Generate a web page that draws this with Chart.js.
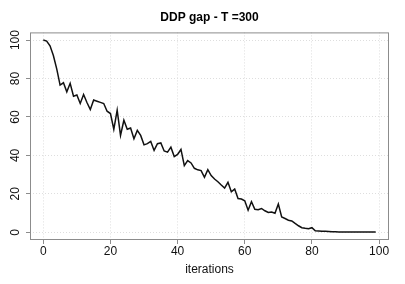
<!DOCTYPE html>
<html>
<head>
<meta charset="utf-8">
<script src="https://cdn.jsdelivr.net/npm/chart.js@4/dist/chart.umd.min.js"></script>
<style>
  html, body { margin: 0; padding: 0; background: #fff; }
  #wrap { width: 405px; height: 284px; }
</style>
</head>
<body>
<div id="wrap"><canvas id="gap"></canvas></div>
<script>
// DDP gap per iteration
const iterations = Array.from({ length: 100 }, (_v, i) => i);
const gap = [
  100, 99.5, 97, 92, 85, 76.6, 77.8, 73.1, 77.5, 70.8,
  71.4, 67, 71.7, 67.5, 63.9, 68.8, 68.2, 67.6, 67, 63,
  61.8, 53.6, 63.5, 50.4, 58.3, 53.6, 54.3, 48.7, 53, 50.4,
  45.5, 46.1, 47.3, 42.6, 46.1, 46.5, 42.3, 41.7, 44.3, 39.4,
  40.5, 43.1, 34.7, 37.3, 36.1, 33.3, 32.5, 32.1, 28.6, 32.6,
  29.5, 27.7, 26.3, 24.6, 23, 26, 21.1, 22.5, 17.6, 17.3,
  16.4, 11.5, 15.9, 12, 11.7, 12.4, 11.2, 10.3, 10.6, 9.9,
  14.7, 8, 7.2, 6.3, 5.9, 4.6, 3.4, 2.4, 2.1, 1.9,
  2.4, 0.8, 0.7, 0.6, 0.5, 0.4, 0.3, 0.25, 0.2, 0.2,
  0.15, 0.15, 0.15, 0.1, 0.1, 0.1, 0.1, 0.1, 0.1, 0.1,
];
const xTicks = [0, 20, 40, 60, 80, 100];
const yTicks = [0, 20, 40, 60, 80, 100];

const FONT = "'Liberation Sans', Arial, Helvetica, sans-serif";
const GRID = "#dedede";
const FRAME = "#8c8c8c";

// R-style box around the plot region
const frameBox = {
  id: "frameBox",
  afterDraw(chart) {
    const { ctx, chartArea: a } = chart;
    ctx.save();
    ctx.strokeStyle = FRAME;
    ctx.lineWidth = 1;
    ctx.strokeRect(a.left + 0.5, a.top + 0.5, a.right - a.left - 1, a.bottom - a.top - 1);
    ctx.restore();
  },
};

// y labels run parallel to the axis (Chart.js won't rotate vertical tick labels)
const sidewaysYLabels = {
  id: "sidewaysYLabels",
  afterDraw(chart) {
    const { ctx } = chart;
    const y = chart.scales.y;
    ctx.save();
    ctx.fillStyle = "#111";
    ctx.font = `12px ${FONT}`;
    ctx.textAlign = "center";
    ctx.textBaseline = "middle";
    y.ticks.forEach((t) => {
      ctx.save();
      ctx.translate(y.right - 14, y.getPixelForValue(t.value));
      ctx.rotate(-Math.PI / 2);
      ctx.fillText(String(t.value), 0, 0);
      ctx.restore();
    });
    ctx.restore();
  },
};

const fixedTicks = (values) => (scale) => {
  scale.ticks = values.map((value) => ({ value }));
};

new Chart(document.getElementById("gap").getContext("2d"), {
  type: "line",
  data: {
    datasets: [
      {
        label: "DDP gap",
        data: iterations.map((it, i) => ({ x: it, y: gap[i] })),
        borderColor: "#111",
        borderWidth: 1.5,
        pointRadius: 0,
        tension: 0,
        fill: false,
      },
    ],
  },
  options: {
    responsive: true,
    maintainAspectRatio: false,
    animation: false,
    layout: { padding: { left: 0, right: 16, top: 0, bottom: 0 } },
    plugins: {
      legend: { display: false },
      tooltip: { enabled: false },
      title: {
        display: true,
        text: "DDP gap - T =300",
        fullSize: false,
        color: "#000",
        font: { family: FONT, size: 12, weight: "bold" },
        padding: { top: 10, bottom: 8 },
      },
    },
    scales: {
      x: {
        type: "linear",
        min: -3.96,
        max: 102.96,
        afterBuildTicks: fixedTicks(xTicks),
        afterFit: (scale) => { scale.height = 44; },
        border: { display: false, dash: [1, 2] },
        grid: {
          color: GRID,
          tickColor: FRAME,
          tickLength: 4,
          drawTicks: true,
        },
        ticks: {
          color: "#111",
          font: { family: FONT, size: 12 },
          padding: 0,
          maxRotation: 0,
          autoSkip: false,
          callback: (v) => String(v),
        },
        title: {
          display: true,
          text: "iterations",
          color: "#111",
          font: { family: FONT, size: 12 },
          padding: { top: 0, bottom: 7 },
        },
      },
      y: {
        type: "linear",
        min: -4,
        max: 104,
        afterBuildTicks: fixedTicks(yTicks),
        afterFit: (scale) => { scale.width = 30; },
        border: { display: false, dash: [1, 2] },
        grid: {
          color: GRID,
          tickColor: FRAME,
          tickLength: 4,
          drawTicks: true,
        },
        ticks: {
          display: false,
          autoSkip: false,
        },
      },
    },
  },
  plugins: [frameBox, sidewaysYLabels],
});
</script>
</body>
</html>
